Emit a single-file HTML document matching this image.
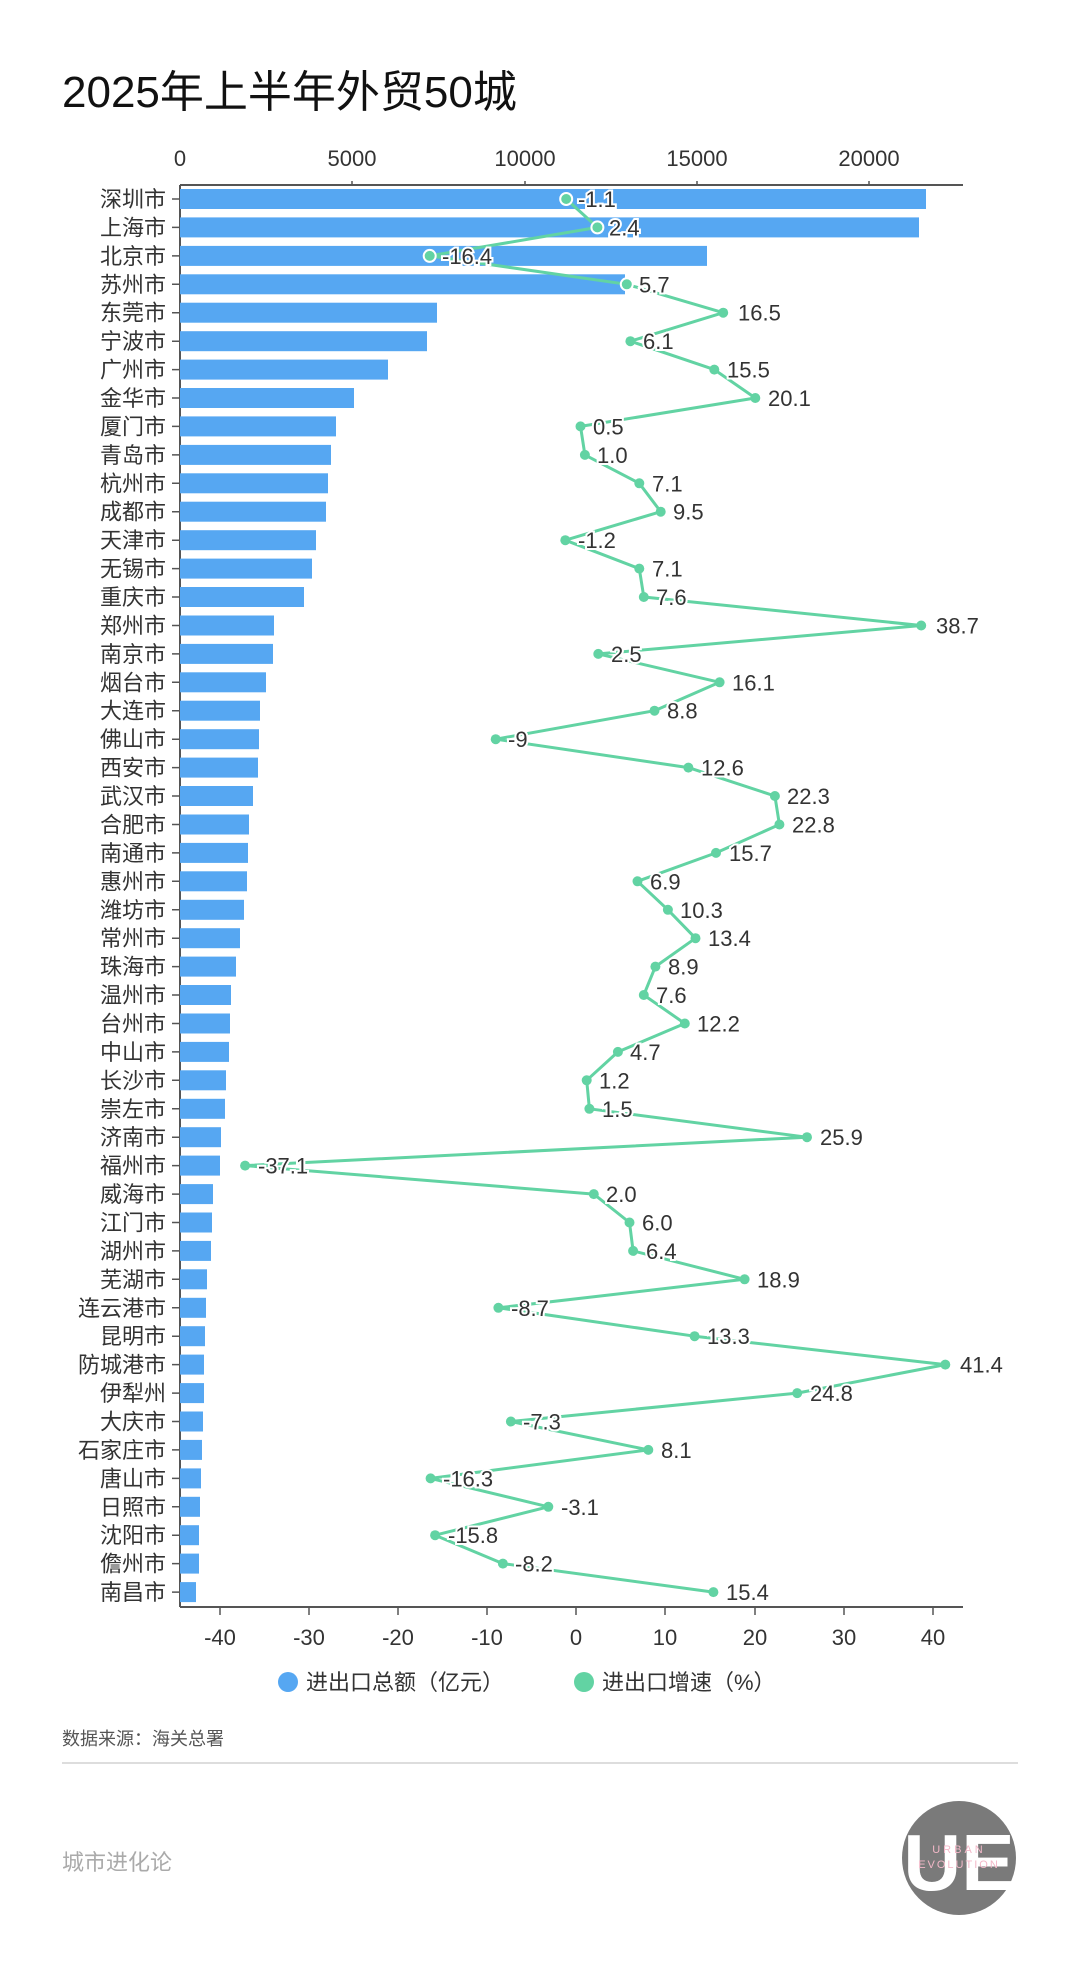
<!DOCTYPE html><html><head><meta charset="utf-8"><style>
html,body{margin:0;padding:0;background:#fff}
svg{display:block}
text{font-family:"Liberation Sans","Noto Sans CJK SC",sans-serif}
.c{font-size:22px;fill:#333;text-anchor:end}
.v{font-size:22px;fill:#333;stroke:#fff;stroke-width:4;paint-order:stroke}
.t{font-size:22px;fill:#333;text-anchor:middle}
</style></head><body>
<svg width="1080" height="1980" viewBox="0 0 1080 1980">
<text x="62" y="107" style="font-size:44px;fill:#111">2025年上半年外贸50城</text>
<g class="t">
<text x="180" y="166">0</text><text x="352" y="166">5000</text><text x="525" y="166">10000</text><text x="697" y="166">15000</text><text x="869" y="166">20000</text>
</g>
<g stroke="#555" stroke-width="1.5">
<line x1="180" y1="185" x2="963" y2="185" stroke-width="2"/>
<line x1="180" y1="185" x2="180" y2="1607" stroke-width="2"/>
<line x1="180" y1="1607" x2="963" y2="1607" stroke-width="2"/>
<line x1="352" y1="181" x2="352" y2="185"/><line x1="525" y1="181" x2="525" y2="185"/><line x1="697" y1="181" x2="697" y2="185"/><line x1="869" y1="181" x2="869" y2="185"/>
<line x1="220" y1="1607" x2="220" y2="1615"/><line x1="309" y1="1607" x2="309" y2="1615"/><line x1="398" y1="1607" x2="398" y2="1615"/><line x1="487" y1="1607" x2="487" y2="1615"/><line x1="576" y1="1607" x2="576" y2="1615"/><line x1="665" y1="1607" x2="665" y2="1615"/><line x1="755" y1="1607" x2="755" y2="1615"/><line x1="844" y1="1607" x2="844" y2="1615"/><line x1="933" y1="1607" x2="933" y2="1615"/>
</g>
<g class="t">
<text x="220" y="1645">-40</text><text x="309" y="1645">-30</text><text x="398" y="1645">-20</text><text x="487" y="1645">-10</text><text x="576" y="1645">0</text><text x="665" y="1645">10</text><text x="755" y="1645">20</text><text x="844" y="1645">30</text><text x="933" y="1645">40</text>
</g>
<g fill="#56a7f2">
<rect x="180" y="189" width="746" height="20"/><rect x="180" y="217.4" width="739" height="20"/><rect x="180" y="245.9" width="527" height="20"/><rect x="180" y="274.3" width="445" height="20"/><rect x="180" y="302.7" width="257" height="20"/><rect x="180" y="331.2" width="247" height="20"/><rect x="180" y="359.6" width="208" height="20"/><rect x="180" y="388" width="174" height="20"/><rect x="180" y="416.4" width="156" height="20"/><rect x="180" y="444.9" width="151" height="20"/>
<rect x="180" y="473.3" width="148" height="20"/><rect x="180" y="501.7" width="146" height="20"/><rect x="180" y="530.2" width="136" height="20"/><rect x="180" y="558.6" width="132" height="20"/><rect x="180" y="587" width="124" height="20"/><rect x="180" y="615.5" width="94" height="20"/><rect x="180" y="643.9" width="93" height="20"/><rect x="180" y="672.3" width="86" height="20"/><rect x="180" y="700.7" width="80" height="20"/><rect x="180" y="729.2" width="79" height="20"/>
<rect x="180" y="757.6" width="78" height="20"/><rect x="180" y="786" width="73" height="20"/><rect x="180" y="814.5" width="69" height="20"/><rect x="180" y="842.9" width="68" height="20"/><rect x="180" y="871.3" width="67" height="20"/><rect x="180" y="899.8" width="64" height="20"/><rect x="180" y="928.2" width="60" height="20"/><rect x="180" y="956.6" width="56" height="20"/><rect x="180" y="985" width="51" height="20"/><rect x="180" y="1013.5" width="50" height="20"/>
<rect x="180" y="1041.9" width="49" height="20"/><rect x="180" y="1070.3" width="46" height="20"/><rect x="180" y="1098.8" width="45" height="20"/><rect x="180" y="1127.2" width="41" height="20"/><rect x="180" y="1155.6" width="40" height="20"/><rect x="180" y="1184.1" width="33" height="20"/><rect x="180" y="1212.5" width="32" height="20"/><rect x="180" y="1240.9" width="31" height="20"/><rect x="180" y="1269.3" width="27" height="20"/><rect x="180" y="1297.8" width="26" height="20"/>
<rect x="180" y="1326.2" width="25" height="20"/><rect x="180" y="1354.6" width="24" height="20"/><rect x="180" y="1383.1" width="24" height="20"/><rect x="180" y="1411.5" width="23" height="20"/><rect x="180" y="1439.9" width="22" height="20"/><rect x="180" y="1468.4" width="21" height="20"/><rect x="180" y="1496.8" width="20" height="20"/><rect x="180" y="1525.2" width="19" height="20"/><rect x="180" y="1553.6" width="19" height="20"/><rect x="180" y="1582.1" width="16" height="20"/>
</g>
<g stroke="#555" stroke-width="1.5">
<path d="M172 199h8M172 227.4h8M172 255.9h8M172 284.3h8M172 312.7h8M172 341.2h8M172 369.6h8M172 398h8M172 426.4h8M172 454.9h8M172 483.3h8M172 511.7h8M172 540.2h8M172 568.6h8M172 597h8M172 625.5h8M172 653.9h8M172 682.3h8M172 710.7h8M172 739.2h8M172 767.6h8M172 796h8M172 824.5h8M172 852.9h8M172 881.3h8M172 909.8h8M172 938.2h8M172 966.6h8M172 995h8M172 1023.5h8M172 1051.9h8M172 1080.3h8M172 1108.8h8M172 1137.2h8M172 1165.6h8M172 1194.1h8M172 1222.5h8M172 1250.9h8M172 1279.3h8M172 1307.8h8M172 1336.2h8M172 1364.6h8M172 1393.1h8M172 1421.5h8M172 1449.9h8M172 1478.4h8M172 1506.8h8M172 1535.2h8M172 1563.6h8M172 1592.1h8"/>
</g>
<g class="c">
<text x="166" y="207">深圳市</text><text x="166" y="235.4">上海市</text><text x="166" y="263.9">北京市</text><text x="166" y="292.3">苏州市</text><text x="166" y="320.7">东莞市</text><text x="166" y="349.2">宁波市</text><text x="166" y="377.6">广州市</text><text x="166" y="406">金华市</text><text x="166" y="434.4">厦门市</text><text x="166" y="462.9">青岛市</text>
<text x="166" y="491.3">杭州市</text><text x="166" y="519.7">成都市</text><text x="166" y="548.2">天津市</text><text x="166" y="576.6">无锡市</text><text x="166" y="605">重庆市</text><text x="166" y="633.5">郑州市</text><text x="166" y="661.9">南京市</text><text x="166" y="690.3">烟台市</text><text x="166" y="718.7">大连市</text><text x="166" y="747.2">佛山市</text>
<text x="166" y="775.6">西安市</text><text x="166" y="804">武汉市</text><text x="166" y="832.5">合肥市</text><text x="166" y="860.9">南通市</text><text x="166" y="889.3">惠州市</text><text x="166" y="917.8">潍坊市</text><text x="166" y="946.2">常州市</text><text x="166" y="974.6">珠海市</text><text x="166" y="1003">温州市</text><text x="166" y="1031.5">台州市</text>
<text x="166" y="1059.9">中山市</text><text x="166" y="1088.3">长沙市</text><text x="166" y="1116.8">崇左市</text><text x="166" y="1145.2">济南市</text><text x="166" y="1173.6">福州市</text><text x="166" y="1202.1">威海市</text><text x="166" y="1230.5">江门市</text><text x="166" y="1258.9">湖州市</text><text x="166" y="1287.3">芜湖市</text><text x="166" y="1315.8">连云港市</text>
<text x="166" y="1344.2">昆明市</text><text x="166" y="1372.6">防城港市</text><text x="166" y="1401.1">伊犁州</text><text x="166" y="1429.5">大庆市</text><text x="166" y="1457.9">石家庄市</text><text x="166" y="1486.4">唐山市</text><text x="166" y="1514.8">日照市</text><text x="166" y="1543.2">沈阳市</text><text x="166" y="1571.6">儋州市</text><text x="166" y="1600.1">南昌市</text>
</g>
<polyline fill="none" stroke="#62d3a3" stroke-width="3" stroke-linejoin="round" points="566.2,199 597.4,227.4 429.7,255.9 626.8,284.3 723.2,312.7 630.4,341.2 714.3,369.6 755.3,398 580.5,426.4 584.9,454.9 639.3,483.3 660.7,511.7 565.3,540.2 639.3,568.6 643.8,597 921.2,625.5 598.3,653.9 719.6,682.3 654.5,710.7 495.7,739.2 688.4,767.6 774.9,796 779.4,824.5 716,852.9 637.5,881.3 667.9,909.8 695.5,938.2 655.4,966.6 643.8,995 684.8,1023.5 617.9,1051.9 586.7,1080.3 589.4,1108.8 807,1137.2 245.1,1165.6 593.8,1194.1 629.5,1222.5 633.1,1250.9 744.6,1279.3 498.4,1307.8 694.6,1336.2 945.3,1364.6 797.2,1393.1 510.9,1421.5 648.3,1449.9 430.6,1478.4 548.3,1506.8 435.1,1535.2 502.9,1563.6 713.4,1592.1"/>
<g fill="#62d3a3" stroke="#fff" stroke-width="2">
<circle cx="566.2" cy="199" r="6"/><circle cx="597.4" cy="227.4" r="6"/><circle cx="429.7" cy="255.9" r="6"/><circle cx="626.8" cy="284.3" r="6"/>
</g>
<g fill="#62d3a3">
<circle cx="723.2" cy="312.7" r="5"/><circle cx="630.4" cy="341.2" r="5"/><circle cx="714.3" cy="369.6" r="5"/><circle cx="755.3" cy="398" r="5"/><circle cx="580.5" cy="426.4" r="5"/><circle cx="584.9" cy="454.9" r="5"/><circle cx="639.3" cy="483.3" r="5"/><circle cx="660.7" cy="511.7" r="5"/><circle cx="565.3" cy="540.2" r="5"/><circle cx="639.3" cy="568.6" r="5"/><circle cx="643.8" cy="597" r="5"/><circle cx="921.2" cy="625.5" r="5"/><circle cx="598.3" cy="653.9" r="5"/><circle cx="719.6" cy="682.3" r="5"/><circle cx="654.5" cy="710.7" r="5"/><circle cx="495.7" cy="739.2" r="5"/><circle cx="688.4" cy="767.6" r="5"/><circle cx="774.9" cy="796" r="5"/><circle cx="779.4" cy="824.5" r="5"/><circle cx="716" cy="852.9" r="5"/><circle cx="637.5" cy="881.3" r="5"/><circle cx="667.9" cy="909.8" r="5"/><circle cx="695.5" cy="938.2" r="5"/><circle cx="655.4" cy="966.6" r="5"/><circle cx="643.8" cy="995" r="5"/><circle cx="684.8" cy="1023.5" r="5"/><circle cx="617.9" cy="1051.9" r="5"/><circle cx="586.7" cy="1080.3" r="5"/><circle cx="589.4" cy="1108.8" r="5"/><circle cx="807" cy="1137.2" r="5"/><circle cx="245.1" cy="1165.6" r="5"/><circle cx="593.8" cy="1194.1" r="5"/><circle cx="629.5" cy="1222.5" r="5"/><circle cx="633.1" cy="1250.9" r="5"/><circle cx="744.6" cy="1279.3" r="5"/><circle cx="498.4" cy="1307.8" r="5"/><circle cx="694.6" cy="1336.2" r="5"/><circle cx="945.3" cy="1364.6" r="5"/><circle cx="797.2" cy="1393.1" r="5"/><circle cx="510.9" cy="1421.5" r="5"/><circle cx="648.3" cy="1449.9" r="5"/><circle cx="430.6" cy="1478.4" r="5"/><circle cx="548.3" cy="1506.8" r="5"/><circle cx="435.1" cy="1535.2" r="5"/><circle cx="502.9" cy="1563.6" r="5"/><circle cx="713.4" cy="1592.1" r="5"/>
</g>
<g class="v">
<text x="578" y="207">-1.1</text><text x="609" y="235.4">2.4</text><text x="442" y="263.9">-16.4</text><text x="639" y="292.3">5.7</text><text x="738" y="320.7">16.5</text><text x="643" y="349.2">6.1</text><text x="727" y="377.6">15.5</text><text x="768" y="406">20.1</text><text x="593" y="434.4">0.5</text><text x="597" y="462.9">1.0</text>
<text x="652" y="491.3">7.1</text><text x="673" y="519.7">9.5</text><text x="578" y="548.2">-1.2</text><text x="652" y="576.6">7.1</text><text x="656" y="605">7.6</text><text x="936" y="633.5">38.7</text><text x="611" y="661.9">2.5</text><text x="732" y="690.3">16.1</text><text x="667" y="718.7">8.8</text><text x="508" y="747.2">-9</text>
<text x="701" y="775.6">12.6</text><text x="787" y="804">22.3</text><text x="792" y="832.5">22.8</text><text x="729" y="860.9">15.7</text><text x="650" y="889.3">6.9</text><text x="680" y="917.8">10.3</text><text x="708" y="946.2">13.4</text><text x="668" y="974.6">8.9</text><text x="656" y="1003">7.6</text><text x="697" y="1031.5">12.2</text>
<text x="630" y="1059.9">4.7</text><text x="599" y="1088.3">1.2</text><text x="602" y="1116.8">1.5</text><text x="820" y="1145.2">25.9</text><text x="258" y="1173.6">-37.1</text><text x="606" y="1202.1">2.0</text><text x="642" y="1230.5">6.0</text><text x="646" y="1258.9">6.4</text><text x="757" y="1287.3">18.9</text><text x="511" y="1315.8">-8.7</text>
<text x="707" y="1344.2">13.3</text><text x="960" y="1372.6">41.4</text><text x="810" y="1401.1">24.8</text><text x="523" y="1429.5">-7.3</text><text x="661" y="1457.9">8.1</text><text x="443" y="1486.4">-16.3</text><text x="561" y="1514.8">-3.1</text><text x="448" y="1543.2">-15.8</text><text x="515" y="1571.6">-8.2</text><text x="726" y="1600.1">15.4</text>
</g>
<circle cx="288" cy="1682" r="10" fill="#56a7f2"/>
<text x="306" y="1690" style="font-size:22px;fill:#333">进出口总额（亿元）</text>
<circle cx="584" cy="1682" r="10" fill="#62d3a3"/>
<text x="602" y="1690" style="font-size:22px;fill:#333">进出口增速（%）</text>
<text x="62" y="1745" style="font-size:18px;fill:#555">数据来源：海关总署</text>
<line x1="62" y1="1763" x2="1018" y2="1763" stroke="#ddd" stroke-width="2"/>
<text x="62" y="1870" style="font-size:22px;fill:#aaa">城市进化论</text>
<circle cx="959" cy="1858" r="57" fill="#7a7a7a"/>
<text x="959" y="1890" text-anchor="middle" style="font-size:80px;fill:#fff;font-weight:bold">UE</text>
<text x="959" y="1853" text-anchor="middle" style="font-size:11px;fill:#f3b8c8;letter-spacing:3px">URBAN</text>
<text x="959" y="1868" text-anchor="middle" style="font-size:11px;fill:#f3b8c8;letter-spacing:2px">EVOLUTION</text>
</svg>
</body></html>
